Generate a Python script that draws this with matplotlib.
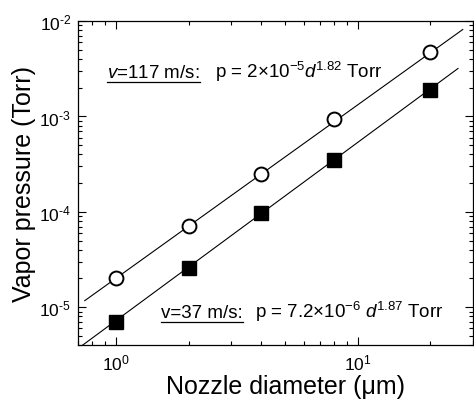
import matplotlib
matplotlib.use('Agg')
import matplotlib.pyplot as plt
import numpy as np
from matplotlib.lines import Line2D
from matplotlib.ticker import LogLocator, NullFormatter, FuncFormatter

plt.rcParams['font.family'] = ['Liberation Sans', 'DejaVu Sans']
plt.rcParams['mathtext.fontset'] = 'custom'
plt.rcParams['mathtext.rm'] = 'Liberation Sans'
plt.rcParams['mathtext.it'] = 'Liberation Sans:italic'
plt.rcParams['mathtext.bf'] = 'Liberation Sans:bold'

# data
diam = [1, 2, 4, 8, 20]
p_fast = [2.0e-5, 7.1e-5, 2.5e-4, 9.5e-4, 4.8e-3]   # v = 117 m/s
p_slow = [7.0e-6, 2.6e-5, 9.8e-5, 3.5e-4, 1.9e-3]   # v = 37 m/s

# fit parameters p = a * d^b
fit_fast = (2e-5, 1.82)
fit_slow = (7.2e-6, 1.87)
fit_range_fast = (0.745, 27.2)
fit_range_slow = (0.65, 26.0)


def pow10(v, pos):
    e = int(round(np.log10(v)))
    sign = r'\text{-}' if e < 0 else ''
    return r'$\mathregular{10^{%s%d}}$' % (sign, abs(e))


fig = plt.figure(figsize=(4.74, 4.02), dpi=100)
ax = fig.add_axes([0.165, 0.139, 0.833, 0.806])

d1 = np.logspace(np.log10(fit_range_fast[0]), np.log10(fit_range_fast[1]), 50)
d2 = np.logspace(np.log10(fit_range_slow[0]), np.log10(fit_range_slow[1]), 50)
ax.plot(d1, fit_fast[0] * d1 ** fit_fast[1], color='black', lw=0.8)
ax.plot(d2, fit_slow[0] * d2 ** fit_slow[1], color='black', lw=0.8)

ax.plot(diam, p_fast, 'o', ms=10, mfc='white', mec='black', mew=1.4, ls='none')
ax.plot(diam, p_slow, 's', ms=10, mfc='black', mec='black', ls='none')

ax.set_xscale('log')
ax.set_yscale('log')
ax.set_xlim(0.7, 30)
ax.set_ylim(4e-6, 1e-2)

ax.xaxis.set_major_locator(LogLocator(base=10, numticks=10))
ax.xaxis.set_minor_locator(LogLocator(base=10, subs=np.arange(2, 10), numticks=10))
ax.yaxis.set_major_locator(LogLocator(base=10, numticks=10))
ax.yaxis.set_minor_locator(LogLocator(base=10, subs=np.arange(2, 10), numticks=10))
ax.xaxis.set_major_formatter(FuncFormatter(pow10))
ax.yaxis.set_major_formatter(FuncFormatter(pow10))
ax.xaxis.set_minor_formatter(NullFormatter())
ax.yaxis.set_minor_formatter(NullFormatter())

ax.tick_params(which='both', direction='in', top=True, right=True, labelsize=12.5, width=0.8)
ax.tick_params(which='major', length=6, pad=5)
ax.tick_params(which='minor', length=3)
for s in ax.spines.values():
    s.set_linewidth(0.9)

ax.set_xlabel('Nozzle diameter (μm)', fontsize=18)
ax.xaxis.label.set_va('baseline')
ax.xaxis.set_label_coords(0.524, -0.148)
ax.set_ylabel('Vapor pressure (Torr)', fontsize=18)
ax.yaxis.set_label_coords(-0.106, 0.5)

fs = 13.5
t1 = ax.text(0.073, 0.827, r'$\mathit{v}$=117 m/s:', transform=ax.transAxes, fontsize=fs, va='baseline')
ax.text(0.347, 0.827, r'p = 2×10$^{-5}$$\mathit{d}$$^{1.82}$ Torr', transform=ax.transAxes, fontsize=fs, va='baseline')
t2 = ax.text(0.21, 0.086, 'v=37 m/s:', transform=ax.transAxes, fontsize=fs, va='baseline')
ax.text(0.448, 0.086, r'p = 7.2×10$^{-6}$ $\mathit{d}$$^{1.87}$ Torr', transform=ax.transAxes, fontsize=fs, va='baseline')

# underline the velocity labels
fig.canvas.draw()
inv = fig.transFigure.inverted()
for t in (t1, t2):
    bb = t.get_window_extent()
    (x0, y0), (x1, _) = inv.transform([[bb.x0, bb.y0 - 1], [bb.x1, bb.y0]])
    fig.add_artist(Line2D([x0, x1], [y0, y0], color='black', lw=0.9, transform=fig.transFigure))

plt.savefig('out.png', dpi=100)
plt.close()
